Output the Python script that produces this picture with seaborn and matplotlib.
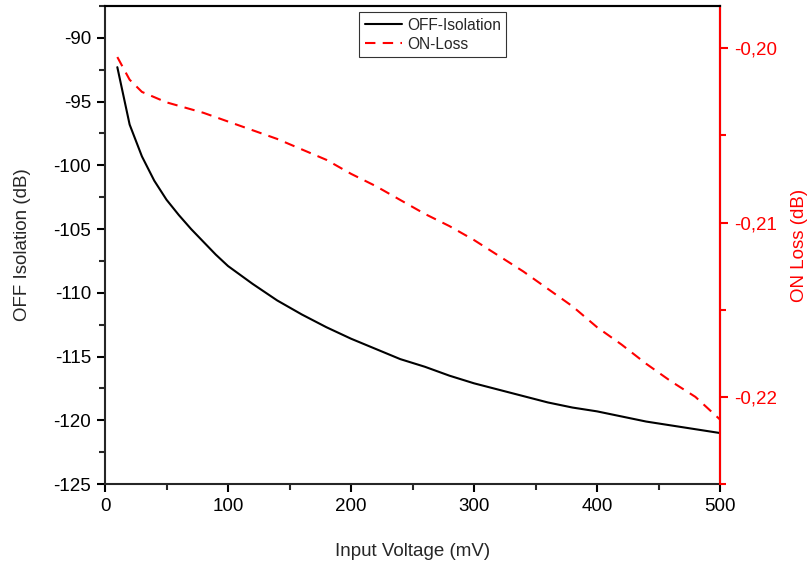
import matplotlib
matplotlib.use("Agg")
import matplotlib.pyplot as plt
import matplotlib.ticker as mticker
import seaborn as sns
import pandas as pd

# Data
off_voltage = [10, 20, 30, 40, 50, 60, 70, 80, 90, 100, 120, 140, 160, 180, 200, 220, 240, 260,
               280, 300, 320, 340, 360, 380, 400, 420, 440, 460, 480, 500]
off_isolation = [-92.3, -96.8, -99.3, -101.2, -102.7, -103.9, -105.0, -106.0, -107.0, -107.9,
                 -109.3, -110.6, -111.7, -112.7, -113.6, -114.4, -115.2, -115.8, -116.5, -117.1,
                 -117.6, -118.1, -118.6, -119.0, -119.3, -119.7, -120.1, -120.4, -120.7, -121.0]

on_voltage = [10, 20, 30, 40, 50, 60, 80, 100, 120, 140, 160, 180, 200, 220, 240, 260, 280, 300,
              320, 340, 360, 380, 400, 420, 440, 460, 480, 500]
on_loss = [-0.2005, -0.2018, -0.2025, -0.2028, -0.2031, -0.2033, -0.2037, -0.2042, -0.2047,
           -0.2052, -0.2058, -0.2064, -0.2072, -0.2079, -0.2087, -0.2095, -0.2102, -0.2110,
           -0.2119, -0.2128, -0.2138, -0.2148, -0.2160, -0.2170, -0.2181, -0.2191, -0.2200,
           -0.2213]

sns.set_style("ticks")
plt.rcParams['font.family'] = ['Liberation Sans', 'DejaVu Sans']
plt.rcParams['axes.unicode_minus'] = False

df_off = pd.DataFrame({"v": off_voltage, "iso": off_isolation})
df_on = pd.DataFrame({"v": on_voltage, "loss": on_loss})

fig = plt.figure(figsize=(8.11, 5.64), dpi=100)
ax = fig.add_axes([0.1295, 0.1418, 0.7583, 0.8476])
ax2 = ax.twinx()

sns.lineplot(data=df_off, x="v", y="iso", ax=ax, color="black", linewidth=1.5,
             label="OFF-Isolation", legend=False)
sns.lineplot(data=df_on, x="v", y="loss", ax=ax2, color="red", linewidth=1.5,
             linestyle=(0, (5, 3.5)), label="ON-Loss", legend=False)

ax.set_xlim(0, 500)
ax.set_ylim(-125, -87.5)
ax2.set_ylim(-0.2250, -0.19757)

ax.xaxis.set_major_locator(mticker.MultipleLocator(100))
ax.xaxis.set_minor_locator(mticker.MultipleLocator(50))
ax.yaxis.set_major_locator(mticker.MultipleLocator(5))
ax.yaxis.set_minor_locator(mticker.MultipleLocator(2.5))
ax2.yaxis.set_major_locator(mticker.MultipleLocator(0.01))
ax2.yaxis.set_minor_locator(mticker.MultipleLocator(0.005))
ax2.yaxis.set_major_formatter(mticker.FuncFormatter(lambda v, p: f"{v:.2f}".replace(".", ",")))

for a in (ax, ax2):
    for s in a.spines.values():
        s.set_linewidth(1.5)
ax.tick_params(axis="both", which="major", direction="out", length=6, width=1.5,
               labelsize=13.5, colors="black", pad=4)
ax.tick_params(axis="both", which="minor", direction="out", length=4, width=1.5)
ax2.tick_params(axis="y", which="major", direction="out", length=6, width=1.5,
                labelsize=13.5, colors="red", pad=4)
ax2.tick_params(axis="y", which="minor", direction="out", length=4, width=1.5, colors="red")
ax2.spines["right"].set_color("red")
ax2.spines["left"].set_visible(False)
ax2.spines["top"].set_color("black")
ax2.spines["bottom"].set_visible(False)

ax.set_xlabel("Input Voltage (mV)", fontsize=13.5, labelpad=20)
ax.set_ylabel("OFF Isolation (dB)", fontsize=13.5, labelpad=16)
ax2.set_ylabel("ON Loss (dB)", fontsize=13.5, color="red", labelpad=10)

h1, l1 = ax.get_legend_handles_labels()
h2, l2 = ax2.get_legend_handles_labels()
leg = ax2.legend(h1 + h2, l1 + l2, loc="upper center", bbox_to_anchor=(0.533, 0.987),
                 borderaxespad=0, fontsize=11.2, frameon=True, fancybox=False,
                 edgecolor="black", handlelength=2.4, handletextpad=0.3, borderpad=0.35,
                 labelspacing=0.25)
leg.get_frame().set_linewidth(0.8)

fig.savefig("out.png", dpi=100)
